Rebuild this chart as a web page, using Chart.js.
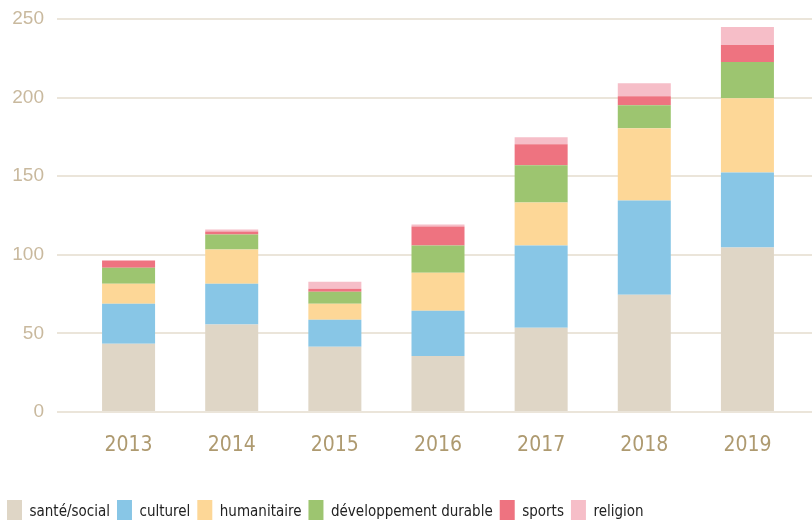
<!DOCTYPE html>
<html>
<head>
<meta charset="utf-8">
<script src="https://cdn.jsdelivr.net/npm/chart.js@4/dist/chart.umd.min.js"></script>
<style>
  html, body { margin: 0; padding: 0; background: #fff; overflow: hidden; }
  #wrap { width: 812px; height: 534px; }
</style>
</head>
<body>
<div id="wrap"><canvas id="chart"></canvas></div>
<script>
'use strict';

// années
const years = ['2013', '2014', '2015', '2016', '2017', '2018', '2019'];

// valeurs
const sante = [43.4, 55.7, 41.5, 35.7, 53.6, 74.6, 104.6];
const culturel = [25.5, 25.9, 17.2, 28.7, 52.3, 60.0, 47.8];
const humanitaire = [12.7, 21.7, 10.2, 24.2, 27.4, 45.9, 47.2];
const developpement = [10.2, 9.6, 7.6, 17.3, 23.6, 14.7, 23.0];
const sports = [4.5, 1.9, 1.9, 12.1, 13.4, 5.7, 10.8];
const religion = [0, 1.3, 4.5, 1.3, 4.4, 8.3, 11.5];

const yTicks = [0, 50, 100, 150, 200, 250];

const gridColor = '#ebe5da';
const narrow = '"DejaVu Sans Condensed", "DejaVu Sans", sans-serif';

const ctx = document.getElementById('chart').getContext('2d');

const data = {
  labels: years,
  datasets: [
    { label: 'santé/social', data: sante, backgroundColor: '#dfd6c6' },
    { label: 'culturel', data: culturel, backgroundColor: '#88c6e6' },
    { label: 'humanitaire', data: humanitaire, backgroundColor: '#fdd797' },
    { label: 'développement durable', data: developpement, backgroundColor: '#9dc570' },
    { label: 'sports', data: sports, backgroundColor: '#ee7380' },
    { label: 'religion', data: religion, backgroundColor: '#f6bec8' },
  ]
};

const options = {
  responsive: true,
  maintainAspectRatio: false,
  animation: false,
  layout: { padding: { top: 19, left: 0, right: 0, bottom: 0 } },
  datasets: {
    bar: { categoryPercentage: 1, barPercentage: 0.514, borderWidth: 0 }
  },
  scales: {
    x: {
      stacked: true,
      grid: { display: false, drawTicks: false },
      border: { display: false },
      ticks: {
        color: '#ae9a70',
        padding: 21,
        font: { family: narrow, size: 21 },
      },
      afterFit: s => { s.height = 81; },
    },
    y: {
      stacked: true,
      min: 0,
      max: 250,
      afterBuildTicks: s => { s.ticks = yTicks.map(v => ({ value: v })); },
      grid: { color: gridColor, lineWidth: 2, drawTicks: true, tickLength: 20 },
      border: { display: false },
      ticks: {
        color: '#c9b99e',
        padding: 13,
        font: { family: '"Liberation Sans", sans-serif', size: 19, lineHeight: 0.4 },
      },
      afterFit: s => { s.width = 77; },
    },
    y2: {
      position: 'right',
      min: 0,
      max: 250,
      afterBuildTicks: s => { s.ticks = yTicks.map(v => ({ value: v })); },
      grid: { color: gridColor, lineWidth: 2, drawOnChartArea: false, drawTicks: true, tickLength: 13 },
      border: { display: false },
      ticks: { display: false },
      afterFit: s => { s.width = 13; },
    }
  },
  plugins: {
    tooltip: { enabled: false },
    legend: {
      position: 'bottom',
      align: 'start',
      labels: {
        boxWidth: 15,
        boxHeight: 24,
        padding: 7,
        color: '#222',
        font: { family: narrow, size: 15 },
      }
    }
  }
};

new Chart(ctx, { type: 'bar', data: data, options: options });
</script>
</body>
</html>
